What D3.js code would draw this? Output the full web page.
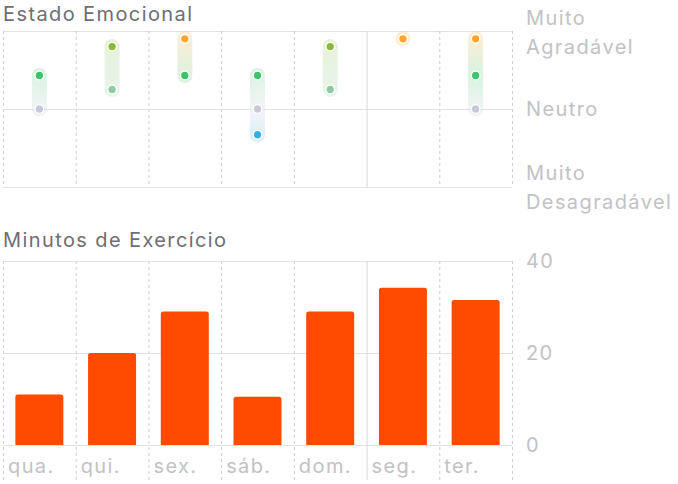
<!DOCTYPE html>
<meta charset="utf-8">
<script src="https://d3js.org/d3.v7.min.js"></script>
<style>
  body { margin: 0; background: #fff; }
  svg { font-family: Inter, "Open Sans", sans-serif; }
  text { letter-spacing: 1.4px; }
</style>
<div id="chart"></div>
<script>

// data
var days = ["qua.", "qui.", "sex.", "sáb.", "dom.", "seg.", "ter."];
var minutes = [11, 20, 29, 10.5, 29, 34.2, 31.5];
// mood readings per day, -1 = muito desagradável, 1 = muito agradável
var moods = [[0.43, 0], [0.8, 0.25], [0.9, 0.43], [0.43, 0, -0.33], [0.8, 0.25], [0.9], [0.9, 0.43, 0]];
var moodLevels = [0.9, 0.8, 0.43, 0.25, 0, -0.33];
var moodColors = ["#ffa62b", "#8ab83a", "#3dc46b", "#90cba5", "#c8c8db", "#35aee4"];
var moodTicks = [1, 0, -1];
var moodTickLabels = [["Muito", "Agradável"], ["Neutro"], ["Muito", "Desagradável"]];
var minuteTicks = [0, 20, 40];
var weekStart = 5; // solid line before "seg."

var W = 678, H = 484;
var left = 3, right = 512;

var svg = d3.select("#chart").append("svg")
  .attr("width", W).attr("height", H);

var x = d3.scaleBand().domain(d3.range(days.length)).range([left, right]);
var color = d3.scaleOrdinal().domain(moodLevels).range(moodColors);

function verticals(g, y0, y1) {
  d3.range(days.length + 1).forEach(function(i) {
    var xx = i < days.length ? x(i) : right;
    g.append("line")
      .attr("x1", xx + 0.5).attr("x2", xx + 0.5)
      .attr("y1", y0).attr("y2", y1)
      .attr("stroke", i == weekStart ? "#d8d8dc" : "#cfcfd2")
      .attr("stroke-width", 1)
      .attr("stroke-dasharray", i == weekStart ? null : "3,3");
  });
}

// ---------- Estado Emocional ----------
var top1 = 31, bot1 = 187;
var y1 = d3.scaleLinear().domain([-1, 1]).range([bot1, top1]);

svg.append("text").attr("x", 3).attr("y", 21)
  .attr("font-size", 20).attr("fill", "#6e6e73").text("Estado Emocional");

var g1 = svg.append("g");
moodTicks.forEach(function(t) {
  g1.append("line").attr("x1", left).attr("x2", right)
    .attr("y1", Math.round(y1(t)) + 0.5).attr("y2", Math.round(y1(t)) + 0.5)
    .attr("stroke", "#e3e3e6");
});
verticals(g1, top1, bot1);

var labY = [[18, 47], [109], [173, 202]];
moodTickLabels.forEach(function(lines, i) {
  lines.forEach(function(s, j) {
    svg.append("text").attr("x", 526).attr("y", labY[i][j])
      .attr("dy", "0.35em").attr("font-size", 20).attr("fill", "#c2c2c5").text(s);
  });
});

var defs = svg.append("defs");
moods.forEach(function(vals, i) {
  var cx = x(i) + x.bandwidth() / 2;
  var hi = d3.max(vals), lo = d3.min(vals);
  var gid = "grad" + i;
  var grad = defs.append("linearGradient").attr("id", gid)
    .attr("x1", 0).attr("x2", 0).attr("y1", 0).attr("y2", 1);
  vals.slice().sort(d3.descending).forEach(function(v) {
    grad.append("stop")
      .attr("offset", hi == lo ? 0.5 : (hi - v) / (hi - lo))
      .attr("stop-color", color(v)).attr("stop-opacity", 0.2);
  });
  var yt = y1(hi) - 7.5, yb = y1(lo) + 7.5;
  g1.append("rect").attr("x", cx - 7.5).attr("y", yt)
    .attr("width", 15).attr("height", yb - yt).attr("rx", 7.5)
    .attr("fill", "url(#" + gid + ")");
  vals.forEach(function(v) {
    g1.append("circle").attr("cx", cx).attr("cy", y1(v)).attr("r", 4.3)
      .attr("fill", color(v)).attr("stroke", "#fff").attr("stroke-width", 1.3);
  });
});

// ---------- Minutos de Exercício ----------
var top2 = 261, bot2 = 445;
var y2 = d3.scaleLinear().domain([0, 40]).range([bot2, top2]);

svg.append("text").attr("x", 3).attr("y", 247)
  .attr("font-size", 20).attr("fill", "#6e6e73").text("Minutos de Exercício");

var g2 = svg.append("g");
minuteTicks.forEach(function(t) {
  g2.append("line").attr("x1", left).attr("x2", right)
    .attr("y1", Math.round(y2(t)) + 0.5).attr("y2", Math.round(y2(t)) + 0.5)
    .attr("stroke", "#e3e3e6");
  svg.append("text").attr("x", 526).attr("y", y2(t)).attr("dy", "0.35em")
    .attr("font-size", 20).attr("fill", "#c2c2c5").text(t);
});
verticals(g2, top2, 480);

var bx = d3.scaleBand().domain(d3.range(days.length)).range([left, right]).paddingInner(0.34).paddingOuter(0.17);
g2.selectAll("path.bar").data(minutes).enter().append("path")
  .attr("class", "bar")
  .attr("fill", "#ff4a00")
  .attr("d", function(d, i) {
    var x0 = bx(i), w = bx.bandwidth(), yt = y2(d), r = 2.5;
    return "M" + x0 + "," + bot2 + "V" + (yt + r) + "Q" + x0 + "," + yt + " " + (x0 + r) + "," + yt +
      "H" + (x0 + w - r) + "Q" + (x0 + w) + "," + yt + " " + (x0 + w) + "," + (yt + r) + "V" + bot2 + "Z";
  });

days.forEach(function(d, i) {
  svg.append("text").attr("x", x(i) + 5).attr("y", 466).attr("dy", "0.35em")
    .attr("font-size", 20).attr("fill", "#c2c2c5").text(d);
});

</script>
